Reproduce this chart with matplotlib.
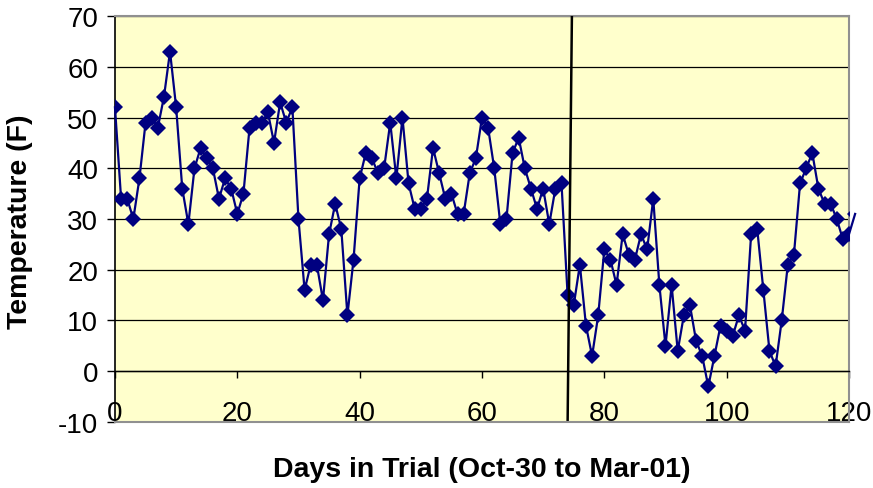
import numpy as np
import matplotlib.pyplot as plt

plt.rcParams['font.family'] = ['Liberation Sans', 'DejaVu Sans']
plt.rcParams['axes.unicode_minus'] = False

days = np.arange(0, 122)
temps = [52, 34, 34, 30, 38, 49, 50, 48, 54, 63,
         52, 36, 29, 40, 44, 42, 40, 34, 38, 36,
         31, 35, 48, 49, 49, 51, 45, 53, 49, 52,
         30, 16, 21, 21, 14, 27, 33, 28, 11, 22,
         38, 43, 42, 39, 40, 49, 38, 50, 37, 32,
         32, 34, 44, 39, 34, 35, 31, 31, 39, 42,
         50, 48, 40, 29, 30, 43, 46, 40, 36, 32,
         36, 29, 36, 37, 15, 13, 21, 9, 3, 11,
         24, 22, 17, 27, 23, 22, 27, 24, 34, 17,
         5, 17, 4, 11, 13, 6, 3, -3, 3, 9,
         8, 7, 11, 8, 27, 28, 16, 4, 1, 10,
         21, 23, 37, 40, 43, 36, 33, 33, 30, 26,
         27, 31]
# the black divider line, slightly slanted as in the original
divider_x = [74.7, 74.0]
divider_y = [70, -10]

fig = plt.figure(figsize=(8.73, 4.89), dpi=100)
ax = fig.add_axes([0.1317, 0.135, 0.8408, 0.8302])
ax.set_facecolor('#FFFFCC')

ax.plot(days, temps, color='#000080', lw=1.6, clip_on=False, zorder=3)
ax.plot(days, temps, ls='none', marker='D', ms=8, mew=0,
        color='#000080', zorder=4)
ax.plot(divider_x, divider_y, color='black', lw=1.8, zorder=5)

ax.set_xlim(0, 120)
ax.set_ylim(-10, 70)
ax.set_xticks(np.arange(0, 121, 20))
ax.set_yticks(np.arange(-10, 71, 10))

ax.yaxis.grid(True, color='black', lw=0.9)
ax.set_axisbelow(True)

for s in ['top', 'right']:
    ax.spines[s].set_color('#909090')
    ax.spines[s].set_linewidth(1.5)
ax.spines['left'].set_color('black')
ax.spines['left'].set_linewidth(1.2)
ax.spines['bottom'].set_position(('data', 0))
ax.spines['bottom'].set_color('black')
ax.spines['bottom'].set_linewidth(1.0)
ax.plot([0, 1], [0, 0], transform=ax.transAxes, color='#909090', lw=1.5,
        clip_on=False, zorder=6)

ax.tick_params(axis='x', direction='out', length=5, width=1, pad=16,
               labelsize=20)
ax.tick_params(axis='y', direction='out', length=6, width=1, pad=6,
               labelsize=20)

ax.set_xlabel('Days in Trial (Oct-30 to Mar-01)', fontsize=20.5,
              fontweight='bold')
ax.xaxis.set_label_coords(0.5, -0.085)
ax.set_ylabel('Temperature (F)', fontsize=20.5, fontweight='bold')
ax.yaxis.set_label_coords(-0.112, 0.495)

fig.savefig('out.png', dpi=100)
